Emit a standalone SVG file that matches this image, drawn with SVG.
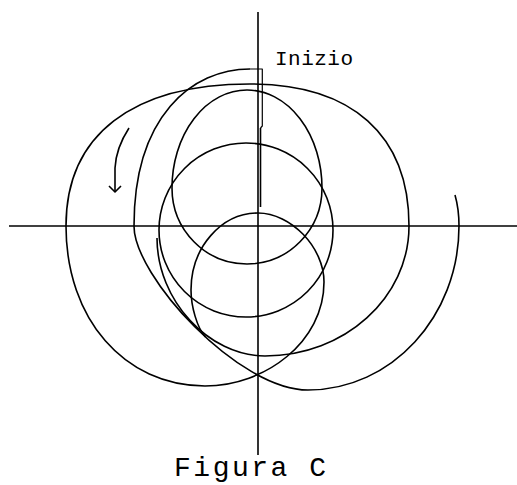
<svg xmlns="http://www.w3.org/2000/svg" width="517" height="485" viewBox="0 0 517 485">
<style>
.ln{fill:none;stroke:#000;stroke-width:1.6;stroke-linejoin:round}
.thin{stroke-width:1.2}
.tx{font-family:"Liberation Mono","Courier New",monospace;fill:#000}
</style>
<rect width="517" height="485" fill="#fff"/>
<g id="axes" class="ln">
<line x1="9" y1="226" x2="517" y2="226"/>
<line x1="258" y1="12" x2="258" y2="455"/>
</g>
<g id="curve" class="ln">
<path id="start-bar" d="M260.5,207 V128"/>
<path id="start-thin" class="thin" d="M260.5,128 L262.3,126 V69 H250"/>
<path id="outer-spiral" d="M250,69 C192,69 134,116 134,226 C134,276 238,390 308,390 C391.4,390 459,316.6 459,226 C459,212 457,202 455,195"/>
<path id="big-loop" d="M66,226 C66,135.1 132.2,84 250,84 C351.8,84 409,135.1 409,226 C409,297.8 344.5,356 265,356 C208.8,356 157,300.3 157,238"/>
<path id="lower-loop" d="M66,226 C66,318.8 124.4,386 205,386 C265,386 324,342 324,282 C324,247.5 291,213 258,213 C221.2,213 191,247.7 191,290 C191,306 197,328 205.5,337"/>
<path id="small-loop" d="M172,188 A75,98 0 0 1 322,188 A75,76 0 0 1 172,188 Z"/>
<circle id="middle-loop" cx="246" cy="230" r="87"/>
</g>
<g id="direction-arrow" class="ln" stroke-width="1.3">
<path d="M129,128 Q116,148 115,168 V192"/>
<polyline points="109,186 115,192 121,186"/>
</g>
<g id="labels" class="tx">
<text x="275" y="65" font-size="21" textLength="78" lengthAdjust="spacing">Inizio</text>
<text x="174" y="476" font-size="28" textLength="152" lengthAdjust="spacing">Figura C</text>
</g>
</svg>
